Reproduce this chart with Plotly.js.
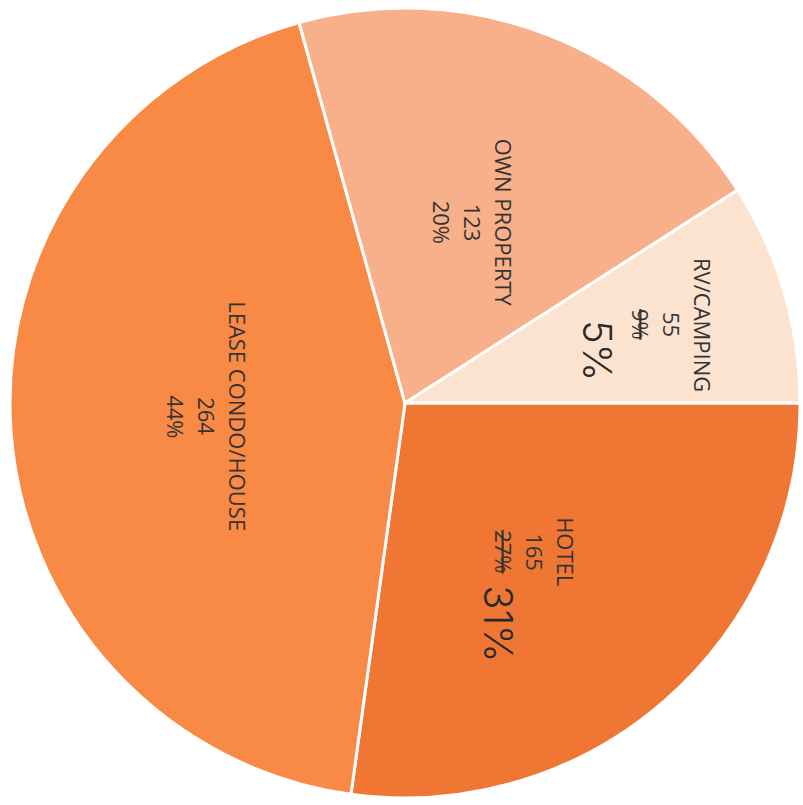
<!DOCTYPE html>
<html><head><meta charset="utf-8">
<script src="https://cdn.plot.ly/plotly-3.0.1.min.js"></script>
<style>html,body{margin:0;padding:0;background:#fff}</style>
</head><body><div id="chart" style="width:803px;height:805px"></div>
<script>
// ---- data (order: clockwise from 3 o'clock) ----
const labels = ['HOTEL', 'LEASE CONDO/HOUSE', 'OWN PROPERTY', 'RV/CAMPING'];
const values = [165, 264, 123, 55];
const printedPct = ['27%', '44%', '20%', '9%'];
const struckPct = [true, false, false, true];
const handPct = ['31%', null, null, '5%'];
const colors = ['#ef7733', '#f88a46', '#f7b08a', '#fce3cf'];

// ---- layout geometry ----
const W = 803, H = 805;
const pxX = [10, 800], pxY = [8, 798];
const cx = (pxX[0] + pxX[1]) / 2, cy = (pxY[0] + pxY[1]) / 2;
const R = Math.min(pxX[1] - pxX[0], pxY[1] - pxY[0]) / 2;
const labelRadius = [0.5, 0.502, 0.489, 0.706];
const lineGap = 31;
const handShift = [[-37, -72], null, null, [-75, -26]];

const total = values.reduce((a, b) => a + b, 0);
const annotations = [];
const txtFont = {family: 'Open Sans, sans-serif', size: 22, color: '#333333'};
const handFont = {family: 'Inter, sans-serif', size: 40, color: '#2a2a2a', weight: 300};
let cum = 0;
values.forEach((v, i) => {
  const mid = -(cum + v / 2) / total * 2 * Math.PI; // clockwise from east
  cum += v;
  const px = cx + labelRadius[i] * R * Math.cos(mid);
  const py = cy - labelRadius[i] * R * Math.sin(mid);
  const ax = px / W, ay = 1 - py / H;
  const lines = [labels[i], String(values[i]), struckPct[i] ? '<s>' + printedPct[i] + '</s>' : printedPct[i]];
  lines.forEach((t, k) => {
    annotations.push({
      xref: 'paper', yref: 'paper', x: ax, y: ay, text: t, showarrow: false,
      textangle: 90, xanchor: 'center', yanchor: 'middle',
      xshift: (1 - k) * lineGap, font: txtFont
    });
  });
  if (handPct[i]) {
    annotations.push({
      xref: 'paper', yref: 'paper', x: ax, y: ay, text: handPct[i], showarrow: false,
      textangle: 90, xanchor: 'center', yanchor: 'middle',
      xshift: handShift[i][0], yshift: handShift[i][1], font: handFont
    });
  }
});

const trace = {
  type: 'pie', labels: labels, values: values, sort: false,
  direction: 'clockwise', rotation: 90,
  marker: {colors: colors, line: {color: '#ffffff', width: 3}},
  textinfo: 'none', hoverinfo: 'none', showlegend: false,
  domain: {x: [pxX[0] / W, pxX[1] / W], y: [1 - pxY[1] / H, 1 - pxY[0] / H]}
};

Plotly.newPlot('chart', [trace], {
  width: W, height: H, margin: {l: 0, r: 0, t: 0, b: 0},
  paper_bgcolor: '#ffffff', plot_bgcolor: '#ffffff',
  annotations: annotations
}, {displayModeBar: false, staticPlot: true});
</script>
</body></html>
